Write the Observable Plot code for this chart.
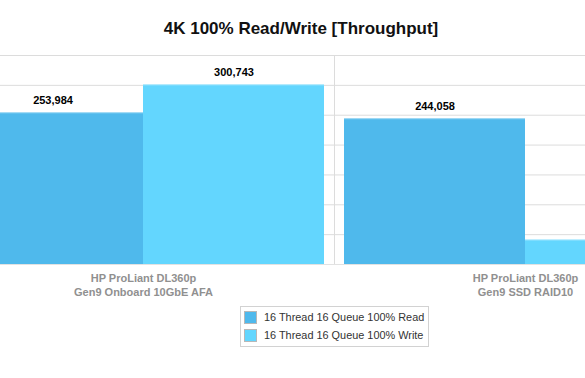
<!DOCTYPE html>
<html>
<head>
<meta charset="utf-8">
<script src="https://cdn.jsdelivr.net/npm/d3@7"></script>
<script src="https://cdn.jsdelivr.net/npm/@observablehq/plot@0.6"></script>
<style>
  body { margin: 0; background: #fff; }
  #wrap { position: relative; width: 585px; height: 378px; overflow: hidden;
          font-family: "Liberation Sans", Arial, Helvetica, sans-serif; }
  #title { position: absolute; left: 0; top: 19px; width: 602px; text-align: center;
           font-weight: bold; font-size: 17px; line-height: 20px; color: #111; }
  #plot { position: absolute; left: 0; top: 45px; }
  #plot svg { overflow: hidden; display: block; }
  #legend { position: absolute; left: 240px; top: 306px; width: 187px;
            border: 1px solid #d2d2d2; padding: 1px 0; background: #fff; }
  .row { display: flex; align-items: center; height: 18.3px; font-size: 10.9px; color: #333; }
  .sw { box-sizing: border-box; width: 13px; height: 13px; border: 1px solid #b8b8b8;
        margin-left: 3px; margin-right: 7px; }
</style>
</head>
<body>
<div id="wrap">
  <div id="title">4K 100% Read/Write [Throughput]</div>
  <div id="plot"></div>
  <div id="legend"></div>
</div>
<script>
// Server configurations (one group of bars each)
const groups = [
  "HP ProLiant DL360p\nGen9 Onboard 10GbE AFA",
  "HP ProLiant DL360p\nGen9 SSD RAID10"
];
// Benchmark series
const series = ["16 Thread 16 Queue 100% Read", "16 Thread 16 Queue 100% Write"];
const seriesColors = ["#4fb9ec", "#63d6fe"];
// Throughput (IOPS) per group
const readValues = [253984, 244058];
const writeValues = [300743, 41000];
// Whether each bar carries a value label
const readLabeled = [true, true];
const writeLabeled = [true, false];
// Horizontal grid values
const yTicks = [0, 50000, 100000, 150000, 200000, 250000, 300000, 350000];

const rows = [];
groups.forEach((g, i) => {
  rows.push({group: g, gi: i, si: 0, series: series[0], value: readValues[i], labeled: readLabeled[i]});
  rows.push({group: g, gi: i, si: 1, series: series[1], value: writeValues[i], labeled: writeLabeled[i]});
});

// Each group spans one unit of x; bars sit side by side with a small gap between groups
const gap = 0.0262;
const half = (1 - 2 * gap) / 2;
const left = d => d.gi + gap + d.si * half;
const right = d => left(d) + half;
const mid = d => left(d) + half / 2;
const fmt = d3.format(",");

const chart = Plot.plot({
  width: 585,
  height: 255,
  marginTop: 10,
  marginBottom: 36,
  marginLeft: 0,
  marginRight: 0,
  x: {domain: [0, groups.length], range: [-48, 716], axis: null},
  y: {domain: [0, 350000], axis: null},
  color: {domain: series, range: seriesColors},
  style: {fontFamily: "'Liberation Sans', Arial, Helvetica, sans-serif", background: "#fff"},
  marks: [
    Plot.ruleY(yTicks.slice(1), {stroke: "#dcdcdc", strokeWidth: 1}),
    Plot.ruleX(d3.range(0, groups.length + 1), {y1: 0, y2: 350000, stroke: "#dcdcdc"}),
    Plot.rectY(rows, {x1: left, x2: right, y1: 0, y2: "value", fill: "series"}),
    // soft highlight along the top edge of each bar
    Plot.ruleY(rows, {x1: left, x2: right, y: "value", stroke: "#fff", strokeOpacity: 0.35}),
    Plot.ruleY([0], {stroke: "#e2e2e2"}),
    Plot.text(rows.filter(d => d.labeled), {
      x: mid, y: "value", text: d => fmt(d.value), dy: -12,
      fontWeight: "bold", fontSize: 11, fill: "#000"
    }),
    Plot.text(groups, {
      x: (d, i) => i + 0.5, frameAnchor: "bottom", text: d => d,
      lineAnchor: "top", dy: 7.8, lineHeight: 1.245,
      fontWeight: "bold", fontSize: 11, fill: "#909090"
    })
  ]
});
document.getElementById("plot").appendChild(chart);

// Legend
const legend = d3.select("#legend");
series.forEach((s, i) => {
  const row = legend.append("div").attr("class", "row");
  row.append("div").attr("class", "sw").style("background", seriesColors[i]);
  row.append("span").text(s);
});
</script>
</body>
</html>
